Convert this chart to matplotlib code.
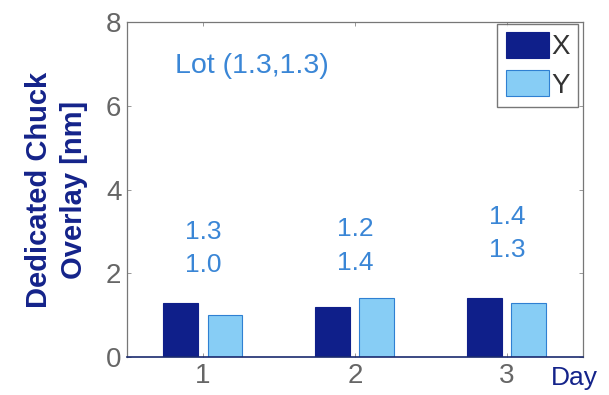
import numpy as np
import matplotlib
matplotlib.use("Agg")
import matplotlib.pyplot as plt

days = [1, 2, 3]
x_vals = [1.3, 1.2, 1.4]
y_vals = [1.0, 1.4, 1.3]
x_labels = ["1.3", "1.2", "1.4"]
y_labels = ["1.0", "1.4", "1.3"]
label_top_y = [2.98, 3.05, 3.35]
label_bot_y = [2.2, 2.24, 2.55]
lot_text = "Lot (1.3,1.3)"

navy = "#0f1f8a"
light = "#87cdf5"
light_edge = "#2f80d2"
txt_blue = "#3a86d6"
gray = "#666666"

plt.rcParams["font.family"] = ["Liberation Sans", "DejaVu Sans"]

fig = plt.figure(figsize=(6.09, 3.95), dpi=100)
ax = fig.add_axes([0.2085, 0.096, 0.7485, 0.848])

pos = np.array(days)
w = 0.23
ax.bar(pos - 0.15, x_vals, w, color=navy, edgecolor=navy, linewidth=0.8, label="X")
ax.bar(pos + 0.145, y_vals, w, color=light, edgecolor=light_edge, linewidth=0.8, label="Y")

for p, t, b, yt, yb in zip(pos, x_labels, y_labels, label_top_y, label_bot_y):
    ax.text(p, yt, t, ha="center", va="center", fontsize=19, color=txt_blue)
    ax.text(p, yb, b, ha="center", va="center", fontsize=19, color=txt_blue)

ax.text(0.105, 0.87, lot_text, transform=ax.transAxes, fontsize=20.5,
        color=txt_blue, ha="left", va="center")

ax.set_xlim(0.5, 3.5)
ax.set_ylim(0, 8)
ax.set_xticks(days)
ax.set_yticks([0, 2, 4, 6, 8])
ax.tick_params(direction="in", length=3, width=0.6, labelsize=20,
               labelcolor=gray, colors="#888888", top=True, right=True, pad=4)
for s in ["left", "right", "top"]:
    ax.spines[s].set_color("#777777")
    ax.spines[s].set_linewidth(0.9)
ax.spines["bottom"].set_color("#1a2a6e")
ax.spines["bottom"].set_linewidth(1.2)

ax.set_ylabel("Dedicated Chuck\nOverlay [nm]", fontsize=21, fontweight="bold",
              color="#14238a", labelpad=13, linespacing=1.3)
fig.text(0.905, 0.042, "Day", fontsize=19, color="#14238a", ha="left", va="center")

leg = ax.legend(loc="upper right", bbox_to_anchor=(0.99, 0.995), fontsize=20,
                frameon=True, fancybox=False, handlelength=1.55, handleheight=1.05,
                handletextpad=0.1, borderpad=0.3, labelspacing=0.35, borderaxespad=0.0)
leg.get_frame().set_edgecolor("#555555")
leg.get_frame().set_linewidth(1.0)
for t in leg.get_texts():
    t.set_color("#333333")

fig.savefig("out.png", dpi=100)
